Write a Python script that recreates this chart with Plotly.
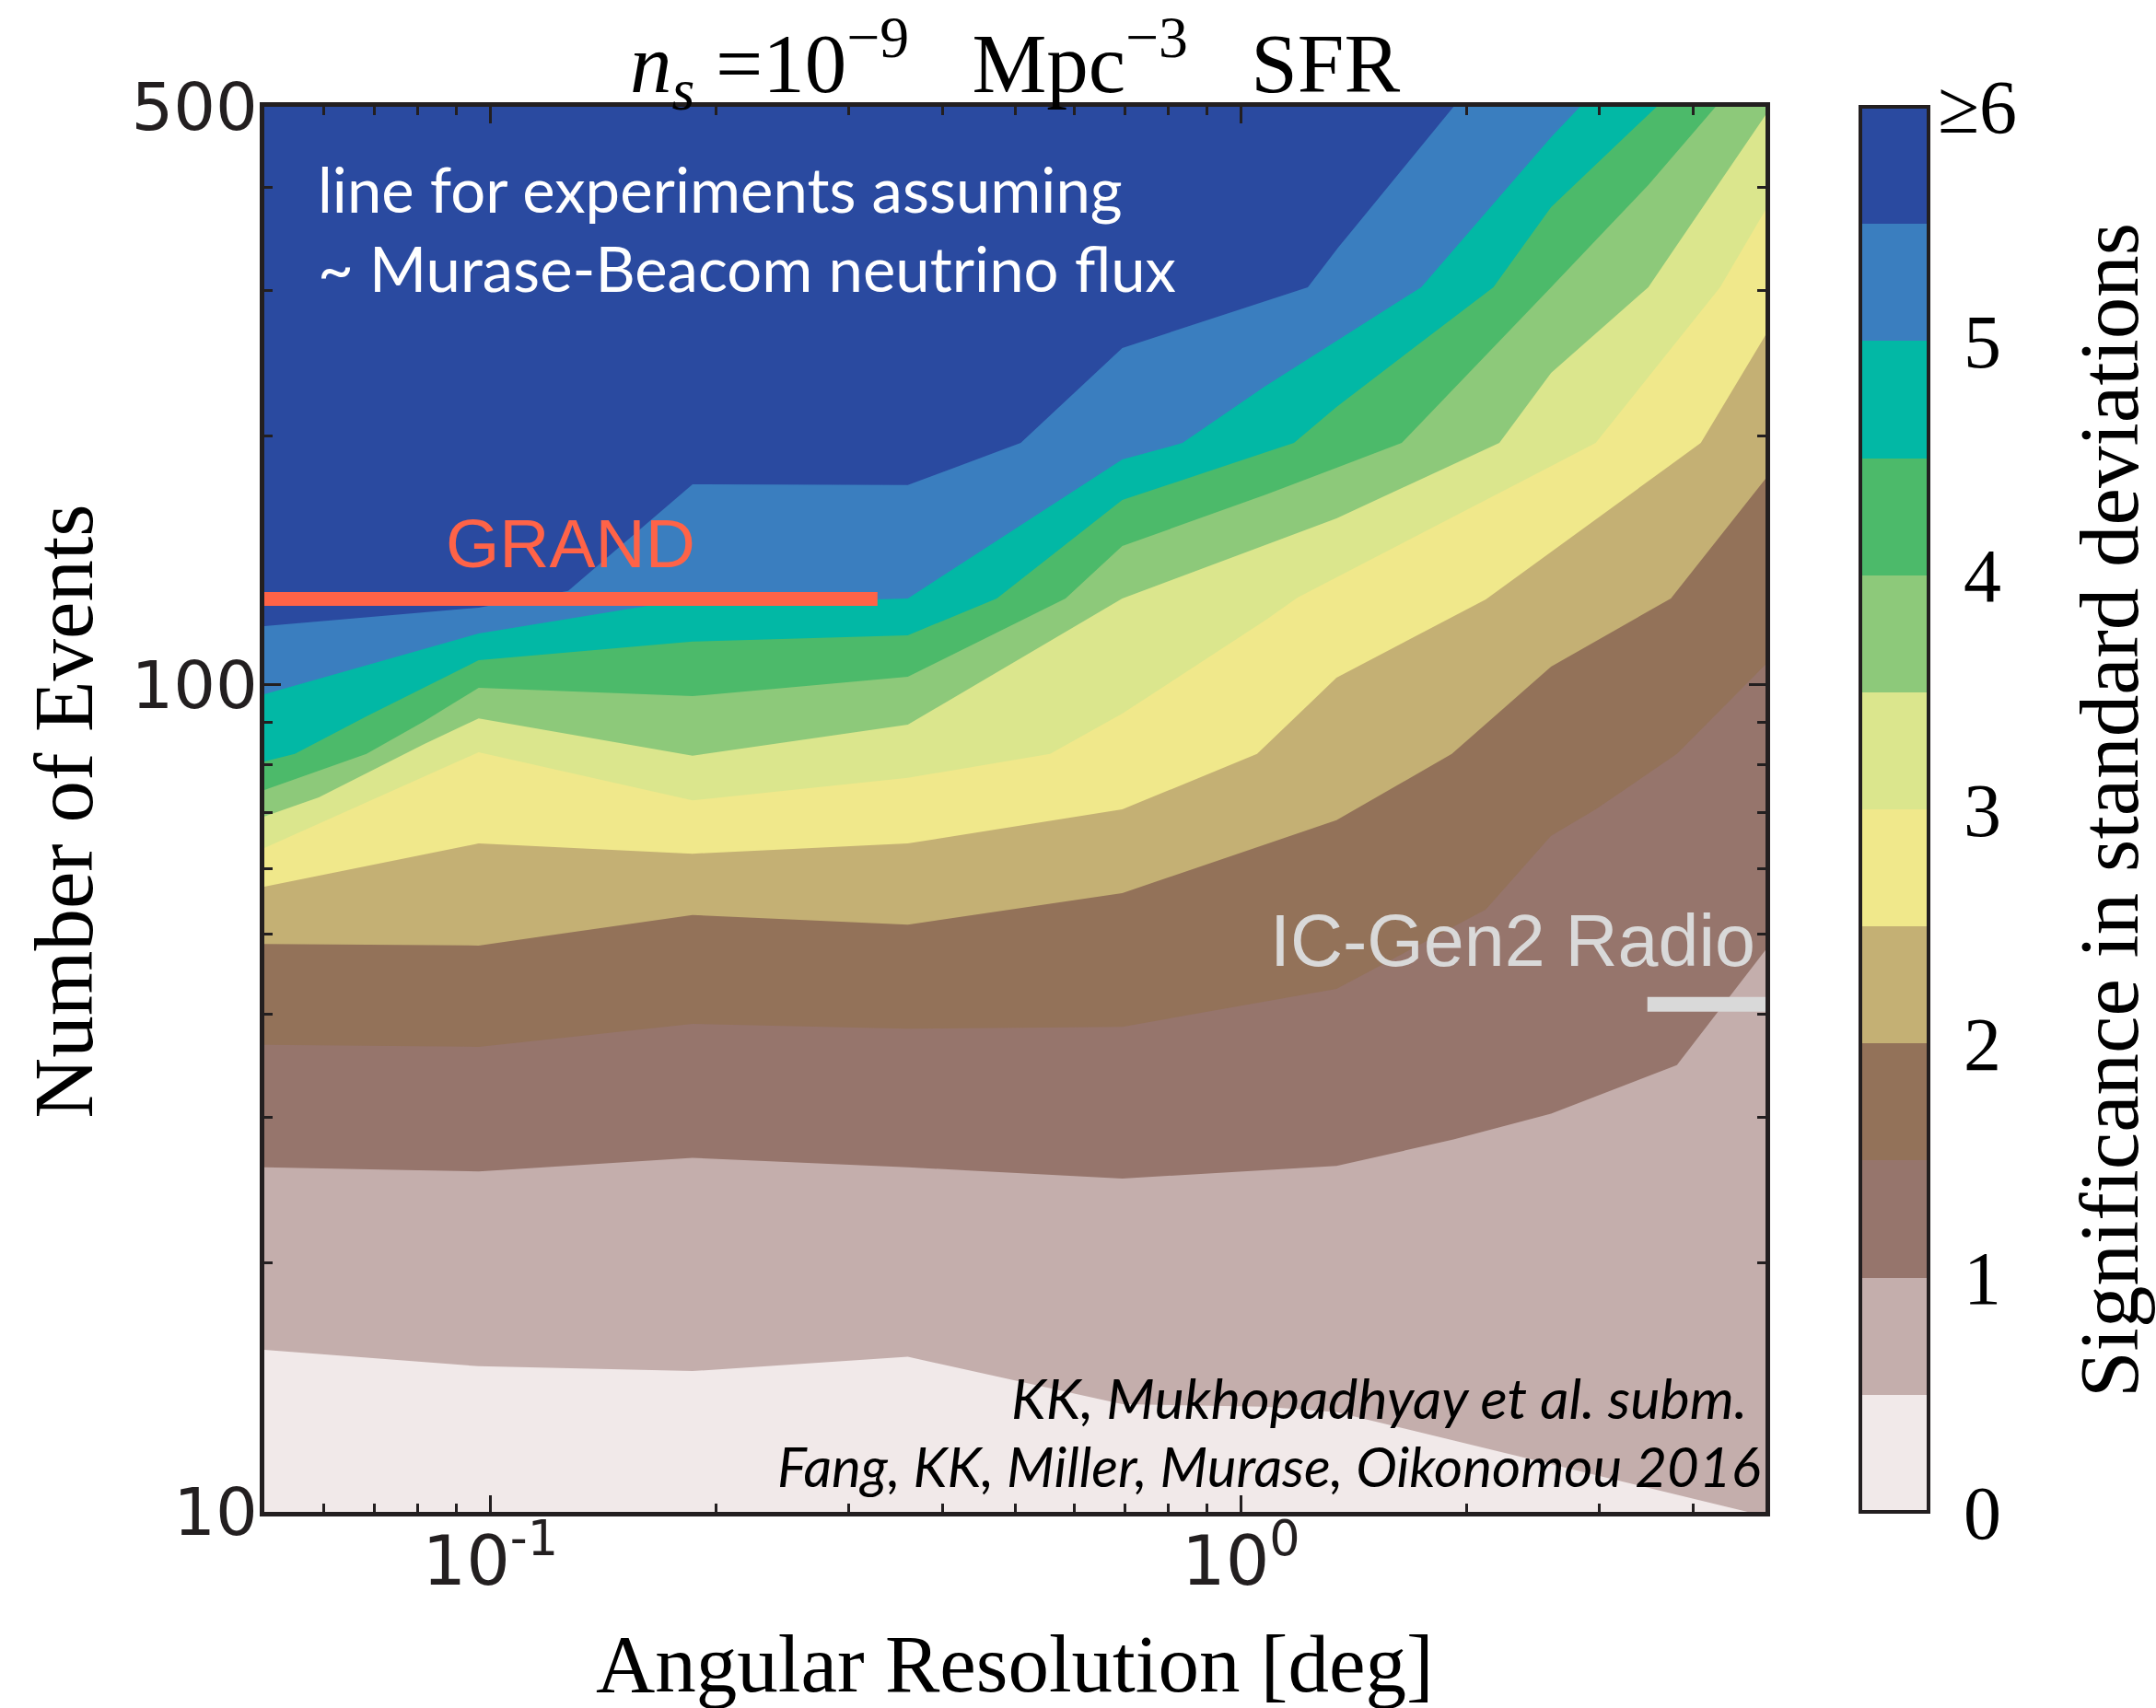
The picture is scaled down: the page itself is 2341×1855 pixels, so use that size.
import numpy as np
import plotly.graph_objects as go

# Axis limits
AR_MIN, AR_MAX = 0.05, 5.0      # angular resolution [deg]
N_MIN, N_MAX = 10, 500          # number of events

# Significance bands 0-0.5, 0.5-1, ..., 5.5-6 sigma (last band shown as >=6)
band_colors = ["#f1e9e9", "#c4aeac", "#96756c", "#937259", "#c4b074", "#f0e88b",
               "#dbe68d", "#8dc97a", "#4cba6a", "#02b8a5", "#3a7ebf", "#2a4aa0"]
cbar_tickvals = [0, 1, 2, 3, 4, 5]
cbar_ticktext = ["0", "1", "2", "3", "4", "5"]
cbar_top_label = "\u22656"

# Iso-significance curves: angular resolution [deg] vs number of events
ar_0p5 = [0.05, 0.0965, 0.186, 0.360, 0.695, 1.075, 1.341, 4.74, 5.0]
n_0p5 = [15.7, 15.0, 14.8, 15.4, 13.5, 13.4, 13.2, 10.0, 9.88]

ar_1p0 = [0.05, 0.0965, 0.186, 0.360, 0.695, 1.075, 1.341, 1.92, 2.59, 3.81, 5.0]
n_1p0 = [26.1, 25.8, 26.8, 26.1, 25.3, 25.9, 26.2, 28.2, 30.3, 34.7, 47.8]

ar_1p5 = [0.05, 0.0965, 0.186, 0.360, 0.695, 1.075, 1.341, 2.12, 2.59, 2.97, 3.81, 5.0]
n_1p5 = [36.7, 36.5, 38.9, 38.4, 38.6, 41.4, 42.9, 53.5, 65.7, 70.7, 82.5, 105.8]

ar_2p0 = [0.05, 0.0965, 0.186, 0.360, 0.695, 1.075, 1.341, 1.91, 2.59, 3.74, 5.0]
n_2p0 = [48.6, 48.4, 52.7, 51.3, 56.0, 64.0, 68.6, 82.5, 105.2, 127.2, 177.5]

ar_2p5 = [0.05, 0.0965, 0.186, 0.360, 0.695, 1.051, 1.341, 2.12, 4.10, 5.0]
n_2p5 = [57.0, 64.3, 62.5, 64.3, 70.7, 82.5, 102.0, 126.9, 196.1, 264.8]

ar_3p0 = [0.05, 0.0965, 0.186, 0.360, 0.557, 0.695, 1.081, 1.19, 2.97, 4.35, 5.0]
n_3p0 = [63.5, 82.9, 72.5, 77.2, 82.5, 92.3, 119.9, 127.5, 196.1, 302.6, 375.2]

ar_3p5 = [0.05, 0.0591, 0.0817, 0.0965, 0.186, 0.360, 0.695, 1.081, 1.341, 2.21, 2.59, 3.49, 5.0]
n_3p5 = [69.3, 73.1, 84.8, 91.1, 82.1, 89.5, 127.2, 147.6, 159.0, 196.1, 238.4, 302.6, 488.7]

ar_4p0 = [0.05, 0.0684, 0.0817, 0.0965, 0.186, 0.360, 0.584, 0.695, 1.081, 1.638, 2.59, 3.49, 4.29]
n_4p0 = [74.6, 82.5, 90.4, 99.2, 96.9, 102.3, 127.2, 147.2, 169.9, 196.1, 302.6, 402.2, 500]

ar_4p5 = [0.05, 0.0549, 0.0684, 0.0965, 0.186, 0.360, 0.473, 0.695, 1.081, 1.177, 1.341, 2.17, 2.59, 3.58]
n_4p5 = [80.8, 82.5, 91.6, 107.1, 112.8, 114.8, 127.2, 167.3, 191.2, 196.1, 216.8, 302.6, 378.1, 500]

ar_5p0 = [0.05, 0.0965, 0.162, 0.360, 0.695, 0.836, 1.075, 1.739, 2.59, 2.83]
n_5p0 = [97.4, 115.4, 124.6, 127.2, 187.3, 196.1, 229.3, 302.6, 459.5, 500]

ar_5p5 = [0.05, 0.0965, 0.127, 0.186, 0.360, 0.509, 0.695, 1.081, 1.228, 1.348, 1.92]
n_5p5 = [117.8, 124.0, 129.9, 174.8, 174.4, 196.1, 255.5, 291.2, 302.6, 337.9, 500]

# Experiment reference lines
grand_ar = [0.05, 0.328]
grand_n = [127, 127]
icgen2_ar = [3.48, 5.0]
icgen2_n = [41.1, 41.1]

# Axis ticks
x_major = [0.1, 1]
x_major_text = ["10<sup>-1</sup>", "10<sup>0</sup>"]
x_minor = [0.06, 0.07, 0.08, 0.09, 0.2, 0.3, 0.4, 0.5, 0.6, 0.7, 0.8, 0.9, 2, 3, 4]
y_major = [10, 100, 500]
y_major_text = ["10", "100", "500"]
y_minor = [20, 30, 40, 50, 60, 70, 80, 90, 200, 300, 400]

INK = "#231f20"
SERIF = "Liberation Serif"

# (level, curve) pairs, highest level first so lower bands paint on top
curves = [
    (5.5, ar_5p5, n_5p5), (5.0, ar_5p0, n_5p0), (4.5, ar_4p5, n_4p5),
    (4.0, ar_4p0, n_4p0), (3.5, ar_3p5, n_3p5), (3.0, ar_3p0, n_3p0),
    (2.5, ar_2p5, n_2p5), (2.0, ar_2p0, n_2p0), (1.5, ar_1p5, n_1p5),
    (1.0, ar_1p0, n_1p0), (0.5, ar_0p5, n_0p5),
]

# padding just outside the visible window for closing the filled regions
X_LO, X_HI, Y_LO, Y_HI = 0.03, 8.0, 3.0, 3000.0


def region_below(xs, ys):
    """Closed polygon covering everything below an iso-significance curve."""
    px = [X_LO, X_LO] + list(xs)
    py = [Y_LO, ys[0]] + list(ys)
    if xs[-1] < AR_MAX:          # curve leaves through the top edge
        px += [xs[-1], X_HI]
        py += [Y_HI, Y_HI]
    else:
        px += [X_HI]
        py += [ys[-1]]
    px += [X_HI]
    py += [Y_LO]
    return px, py


fig = go.Figure()

for level, xs, ys in curves:
    band = int(round(level / 0.5)) - 1
    px, py = region_below(xs, ys)
    fig.add_trace(go.Scatter(
        x=px, y=py, mode="lines", fill="toself",
        fillcolor=band_colors[band], line=dict(width=0, color=band_colors[band]),
        hoverinfo="skip", showlegend=False,
    ))

fig.add_trace(go.Scatter(x=grand_ar, y=grand_n, mode="lines",
                         line=dict(color="#ff6347", width=15),
                         hoverinfo="skip", showlegend=False))
fig.add_trace(go.Scatter(x=icgen2_ar, y=icgen2_n, mode="lines",
                         line=dict(color="#d9d9d9", width=16),
                         hoverinfo="skip", showlegend=False))

# discrete colour bar
colorscale = []
for i, c in enumerate(band_colors):
    colorscale += [[i / len(band_colors), c], [(i + 1) / len(band_colors), c]]

fig.add_trace(go.Scatter(
    x=[1], y=[100], mode="markers", hoverinfo="skip", showlegend=False,
    marker=dict(size=1, opacity=0, color=[0], cmin=0, cmax=6,
                colorscale=colorscale, showscale=True,
                colorbar=dict(
                    x=1.0632, xanchor="left", xpad=0,
                    y=0.5, yanchor="middle", len=1, lenmode="fraction", ypad=0,
                    thickness=74, thicknessmode="pixels",
                    outlinewidth=4, outlinecolor=INK, borderwidth=0,
                    tickmode="array", tickvals=cbar_tickvals, ticktext=cbar_ticktext,
                    ticks="outside", ticklen=20, tickcolor="rgba(0,0,0,0)",
                    tickfont=dict(family=SERIF, size=82, color="black"),
                )),
))

axis_common = dict(
    type="log", tickmode="array", ticks="inside", ticklen=18, tickwidth=3,
    tickcolor=INK, showline=True, linewidth=4.5, linecolor=INK, mirror="ticks",
    showgrid=False, zeroline=False,
)

fig.update_xaxes(
    range=[np.log10(AR_MIN), np.log10(AR_MAX)],
    tickvals=x_major, ticktext=x_major_text, ticklabelstandoff=-16,
    tickfont=dict(family="DejaVu Sans", size=75, color=INK),
    minor=dict(tickmode="array", tickvals=x_minor, ticks="inside", ticklen=9,
               tickwidth=3, tickcolor=INK, showgrid=False),
    **axis_common,
)
fig.update_yaxes(
    range=[np.log10(N_MIN), np.log10(N_MAX)],
    tickvals=y_major, ticktext=y_major_text, ticklabelstandoff=-12,
    tickfont=dict(family="DejaVu Sans", size=72, color=INK),
    minor=dict(tickmode="array", tickvals=y_minor, ticks="inside", ticklen=9,
               tickwidth=3, tickcolor=INK, showgrid=False),
    **axis_common,
)

annotations = [
    dict(text="<i>n</i><sub><i>s</i></sub> =10<sup>\u22129</sup>\u00a0\u00a0\u00a0Mpc<sup>\u22123</sup>\u00a0\u00a0\u00a0SFR",
         x=0.5, y=1.031, xanchor="center", yanchor="middle",
         font=dict(family=SERIF, size=91, color="black")),
    dict(text=cbar_top_label, x=1.1135, y=1.0, xanchor="left", yanchor="middle",
         font=dict(family=SERIF, size=82, color="black")),
    dict(text="Angular Resolution [deg]", x=0.5, y=-0.108,
         xanchor="center", yanchor="middle",
         font=dict(family=SERIF, size=89, color="black")),
    dict(text="Number of Events", x=-0.1334, y=0.4987, textangle=-90,
         xanchor="center", yanchor="middle",
         font=dict(family=SERIF, size=91, color="black")),
    dict(text="Significance in standard deviations", x=1.2288, y=0.4993, textangle=-90,
         xanchor="center", yanchor="middle",
         font=dict(family=SERIF, size=91, color="black")),
    dict(text="line for experiments assuming", x=0.0341, y=0.9417,
         xanchor="left", yanchor="middle",
         font=dict(family="Lato", size=67, color="white")),
    dict(text="~ Murase-Beacom neutrino flux", x=0.0341, y=0.8853,
         xanchor="left", yanchor="middle",
         font=dict(family="Lato", size=67, color="white")),
    dict(text="GRAND", x=0.2037, y=0.6894, xanchor="center", yanchor="middle",
         font=dict(family="Liberation Sans", size=75, color="#ff6347")),
    dict(text="IC-Gen2 Radio", x=0.9945, y=0.4069, xanchor="right", yanchor="middle",
         font=dict(family="Liberation Sans", size=79, color="#d9d9d9")),
    dict(text="<i>KK, Mukhopadhyay et al. subm.</i>", x=0.989, y=0.0819,
         xanchor="right", yanchor="middle",
         font=dict(family="Lato", size=61, color="black")),
    dict(text="<i>Fang, KK, Miller, Murase, Oikonomou 2016</i>", x=0.998, y=0.0328,
         xanchor="right", yanchor="middle",
         font=dict(family="Lato", size=60, color="black")),
]
for a in annotations:
    a.update(xref="paper", yref="paper", showarrow=False)

fig.update_layout(
    width=2341, height=1855, autosize=False,
    margin=dict(l=287, r=424, t=116, b=213, pad=0),
    paper_bgcolor="white", plot_bgcolor=band_colors[-1],
    showlegend=False, annotations=annotations,
)

fig.write_html("out.html")
